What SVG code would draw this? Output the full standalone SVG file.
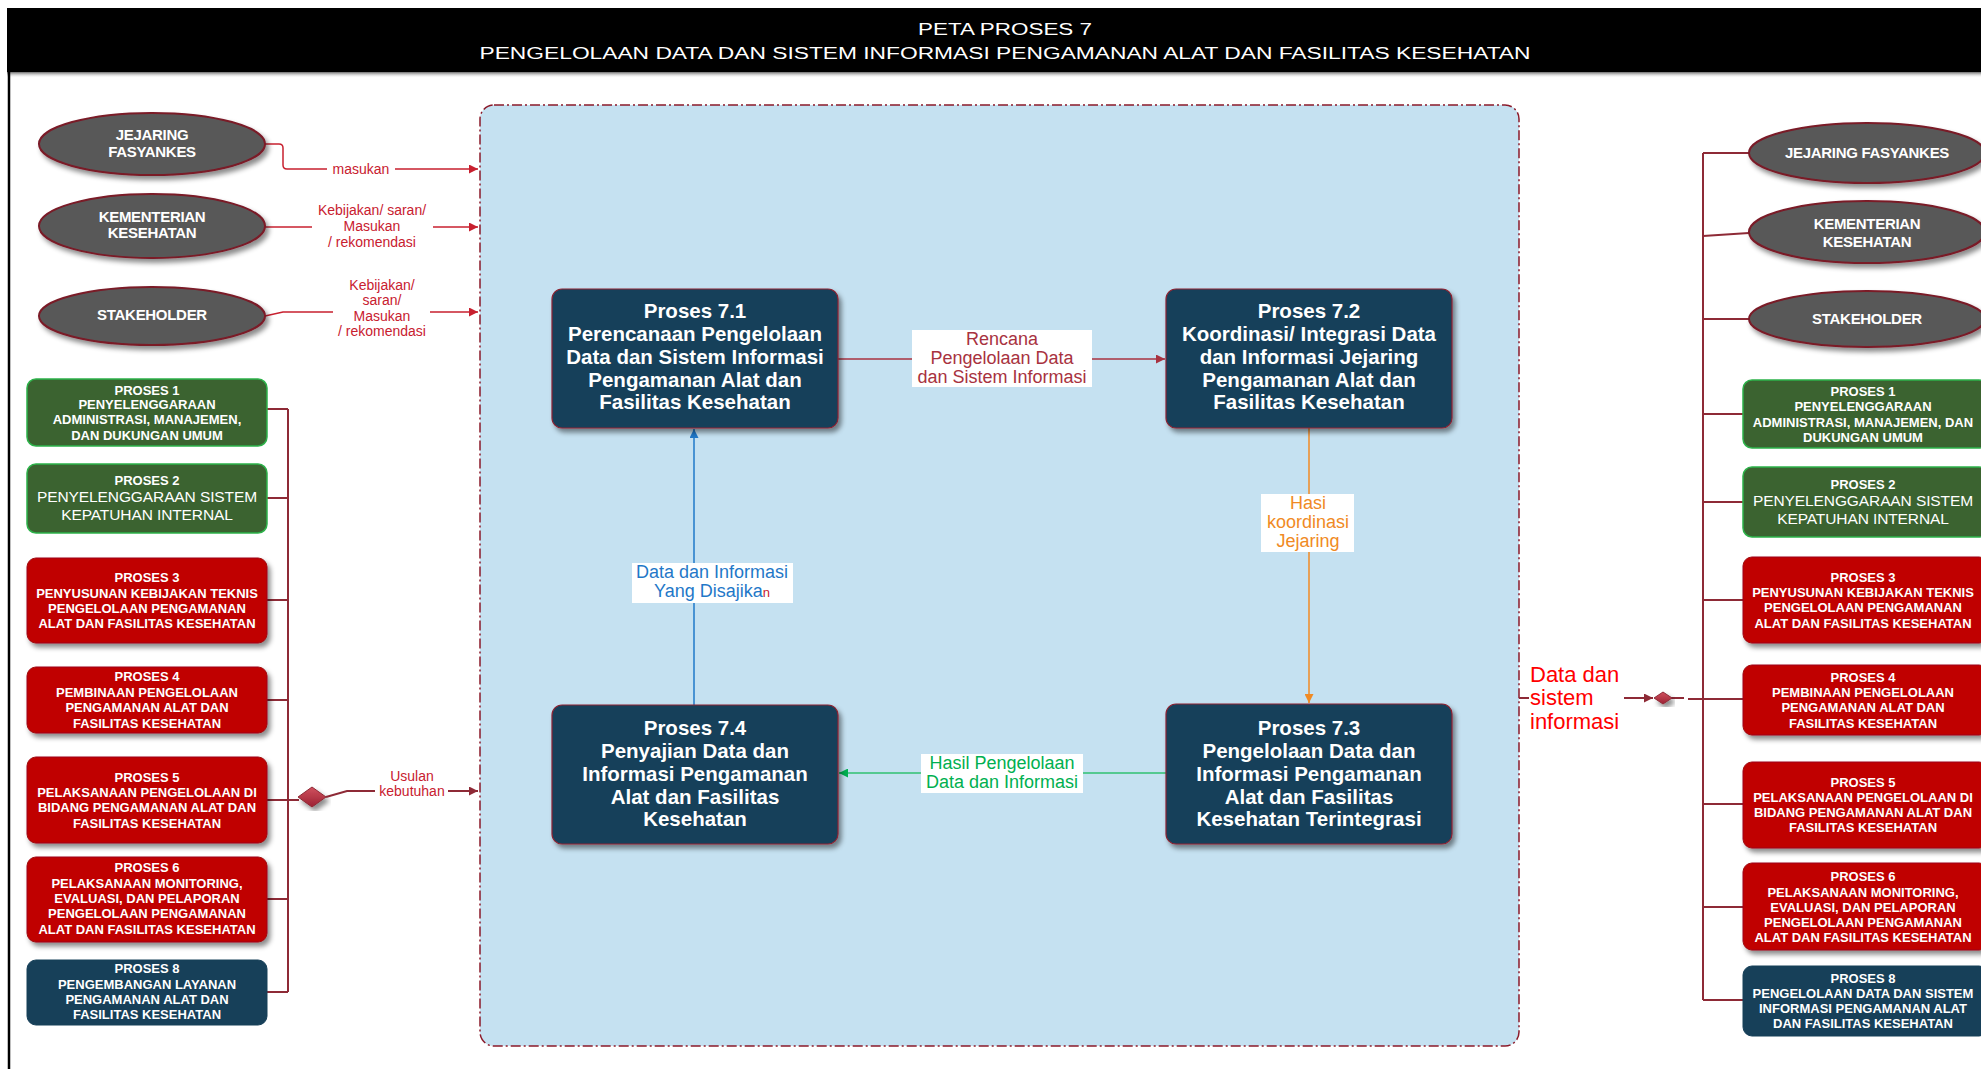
<svg xmlns="http://www.w3.org/2000/svg" width="1981" height="1069" viewBox="0 0 1981 1069">
  <style>
    text { font-family: "Liberation Sans", Arial, sans-serif; }
    .title { fill: #ffffff; font-size: 16px; text-anchor: middle; }
    .ell { fill: #595959; stroke: #7a1a28; stroke-width: 2; filter: url(#shadow); }
    .ellText { fill: #ffffff; font-size: 15px; font-weight: bold; text-anchor: middle; letter-spacing: -0.3px; }
    .green { fill: #3b6330; stroke: #2db24a; stroke-width: 1.5; }
    .red { fill: #c00000; stroke: #9e0b0f; stroke-width: 1; filter: url(#shadow); }
    .navy { fill: #174059; stroke: #174059; stroke-width: 1; }
    .boxText { fill: #ffffff; font-size: 13px; font-weight: bold; text-anchor: middle; letter-spacing: 0px; }
    .boxTextReg { fill: #ffffff; font-size: 15.5px; text-anchor: middle; letter-spacing: -0.1px; }
    .proc { fill: #163f5a; stroke: #8b2232; stroke-width: 1.2; filter: url(#shadow); }
    .procText { fill: #ffffff; font-size: 20.5px; font-weight: bold; text-anchor: middle; }
    .bus { fill: none; stroke: #8e2a36; stroke-width: 2; }
    .inLine { fill: none; stroke: #c8202f; stroke-width: 1.5; }
    .inLabel { fill: #c8202f; font-size: 14px; text-anchor: middle; }
    .lblBg { fill: #ffffff; }
    .midLabel { font-size: 18px; text-anchor: middle; }
  </style>
  <defs>
    <filter id="shadow" x="-10%" y="-10%" width="125%" height="130%">
      <feDropShadow dx="3" dy="4" stdDeviation="2.5" flood-color="#000000" flood-opacity="0.45"/>
    </filter>
    <linearGradient id="barShade" x1="0" y1="0" x2="0" y2="1">
      <stop offset="0" stop-color="#6b6b6b"/>
      <stop offset="1" stop-color="#ffffff" stop-opacity="0"/>
    </linearGradient>
    <linearGradient id="diamondFill" x1="0" y1="0" x2="0" y2="1">
      <stop offset="0" stop-color="#d0505e"/>
      <stop offset="1" stop-color="#9c2233"/>
    </linearGradient>
    <marker id="arRed" viewBox="0 0 10 10" refX="10" refY="5" markerWidth="9" markerHeight="9" markerUnits="userSpaceOnUse" orient="auto">
      <path d="M0,0 L10,5 L0,10 z" fill="#c8202f"/>
    </marker>
    <marker id="arDark" viewBox="0 0 10 10" refX="10" refY="5" markerWidth="9" markerHeight="9" markerUnits="userSpaceOnUse" orient="auto">
      <path d="M0,0 L10,5 L0,10 z" fill="#8e2a36"/>
    </marker>
    <marker id="arCrimson" viewBox="0 0 10 10" refX="10" refY="5" markerWidth="9" markerHeight="9" markerUnits="userSpaceOnUse" orient="auto">
      <path d="M0,0 L10,5 L0,10 z" fill="#a83240"/>
    </marker>
    <marker id="arOrange" viewBox="0 0 10 10" refX="10" refY="5" markerWidth="9" markerHeight="9" markerUnits="userSpaceOnUse" orient="auto">
      <path d="M0,0 L10,5 L0,10 z" fill="#f08a24"/>
    </marker>
    <marker id="arGreen" viewBox="0 0 10 10" refX="10" refY="5" markerWidth="9" markerHeight="9" markerUnits="userSpaceOnUse" orient="auto">
      <path d="M0,0 L10,5 L0,10 z" fill="#00b050"/>
    </marker>
    <marker id="arBlue" viewBox="0 0 10 10" refX="10" refY="5" markerWidth="9" markerHeight="9" markerUnits="userSpaceOnUse" orient="auto">
      <path d="M0,0 L10,5 L0,10 z" fill="#1f78c8"/>
    </marker>
  </defs>

  <rect x="0" y="0" width="1981" height="1069" fill="#ffffff"/>

  <!-- header bar -->
  <g id="header">
    <rect x="7" y="72" width="1974" height="6" fill="url(#barShade)"/>
    <rect x="7" y="8" width="1974" height="64" fill="#000000"/>
    <line x1="9" y1="72" x2="9" y2="1069" stroke="#000000" stroke-width="2.5"/>
    <text class="title" x="1005" y="35" textLength="174" lengthAdjust="spacingAndGlyphs">PETA PROSES 7</text>
    <text class="title" x="1005" y="59" textLength="1051" lengthAdjust="spacingAndGlyphs">PENGELOLAAN DATA DAN SISTEM INFORMASI PENGAMANAN ALAT DAN FASILITAS KESEHATAN</text>
  </g>

  <!-- process 7 container -->
  <g id="container">
    <rect x="480" y="105" width="1039" height="941" rx="14" fill="#c5e1f1" stroke="#8b1a2a" stroke-width="1.5" stroke-dasharray="10 3 2 3"/>
  </g>

  <!-- connectors -->
  <g id="connectors">
    <!-- inputs on the left -->
    <path class="inLine" d="M265,144 H279 Q283,144 283,148 V165 Q283,169 287,169 H478" marker-end="url(#arRed)"/>
    <path class="inLine" d="M265,227 H478" marker-end="url(#arRed)"/>
    <path class="inLine" d="M265,316 L283,312 H478" marker-end="url(#arRed)"/>
    <rect class="lblBg" x="327" y="160" width="68" height="18"/>
    <rect class="lblBg" x="312" y="200" width="121" height="52"/>
    <rect class="lblBg" x="333" y="276" width="97" height="64"/>

    <!-- left bus -->
    <path class="bus" d="M288,409 V992"/>
    <path class="bus" d="M267,409 H288 M267,498 H288 M267,600 H288 M267,700 H288 M267,899 H288 M267,992 H288"/>
    <path class="bus" d="M267,800 H299"/>
    <polygon points="298,797 312,787 326,797 312,807" fill="url(#diamondFill)" stroke="#8e2a36" stroke-width="1" filter="url(#shadow)"/>
    <path class="bus" d="M326,797 L347,791 H478" stroke-width="1.5" marker-end="url(#arDark)"/>
    <rect class="lblBg" x="375" y="782" width="73" height="16"/>

    <!-- right bus -->
    <path class="bus" d="M1703,153 V1000"/>
    <path class="bus" d="M1703,153 H1749 M1703,236 L1749,233 M1703,319 H1749 M1703,414 H1743 M1703,502 H1743 M1703,600 H1743 M1703,804 H1743 M1703,907 H1743 M1703,1000 H1743"/>
    <path class="bus" d="M1688,699 H1743"/>
    <path class="bus" d="M1671,698 H1684" stroke-width="1.5"/>
    <path class="bus" d="M1519,698 H1529" stroke-width="1.2"/>
    <path class="bus" d="M1624,698 H1653" stroke-width="1.5" marker-end="url(#arDark)"/>
    <polygon points="1654,698 1663,692 1672,698 1663,704" fill="url(#diamondFill)" stroke="#8e2a36" stroke-width="1" filter="url(#shadow)"/>

    <!-- flows between sub-processes -->
    <path d="M838,359 H1165" stroke="#a83240" stroke-width="1.5" fill="none" marker-end="url(#arCrimson)"/>
    <path d="M1309,428 V703" stroke="#f08a24" stroke-width="1.5" fill="none" marker-end="url(#arOrange)"/>
    <path d="M1166,773 H839" stroke="#2fc070" stroke-width="1.5" fill="none" marker-end="url(#arGreen)"/>
    <path d="M694,705 V429" stroke="#1f78c8" stroke-width="1.5" fill="none" marker-end="url(#arBlue)"/>

    <rect class="lblBg" x="912" y="330" width="180" height="57"/>
    <rect class="lblBg" x="1261" y="494" width="93" height="58"/>
    <rect class="lblBg" x="921" y="754" width="162" height="39"/>
    <rect class="lblBg" x="632" y="563" width="161" height="40"/>

    <!-- labels -->
    <text class="inLabel" x="361" y="174">masukan</text>
    <text class="inLabel" x="372" y="215">Kebijakan/ saran/</text>
    <text class="inLabel" x="372" y="231">Masukan</text>
    <text class="inLabel" x="372" y="247">/ rekomendasi</text>
    <text class="inLabel" x="382" y="290">Kebijakan/</text>
    <text class="inLabel" x="382" y="305">saran/</text>
    <text class="inLabel" x="382" y="321">Masukan</text>
    <text class="inLabel" x="382" y="336">/ rekomendasi</text>
    <text class="inLabel" x="412" y="781" font-size="14.5">Usulan</text>
    <text class="inLabel" x="412" y="796" font-size="14.5">kebutuhan</text>

    <text x="1530" y="682" fill="#ff0000" font-size="22px">Data dan</text>
    <text x="1530" y="705" fill="#ff0000" font-size="22px">sistem</text>
    <text x="1530" y="729" fill="#ff0000" font-size="22px">informasi</text>

    <text class="midLabel" fill="#a83240" x="1002" y="345">Rencana</text>
    <text class="midLabel" fill="#a83240" x="1002" y="364">Pengelolaan Data</text>
    <text class="midLabel" fill="#a83240" x="1002" y="383">dan Sistem Informasi</text>
    <text class="midLabel" fill="#f08a24" x="1308" y="509">Hasi</text>
    <text class="midLabel" fill="#f08a24" x="1308" y="528">koordinasi</text>
    <text class="midLabel" fill="#f08a24" x="1308" y="547">Jejaring</text>
    <text class="midLabel" fill="#00b050" x="1002" y="769">Hasil Pengelolaan</text>
    <text class="midLabel" fill="#00b050" x="1002" y="788">Data dan Informasi</text>
    <text class="midLabel" fill="#1f78c8" x="712" y="578">Data dan Informasi</text>
    <text class="midLabel" fill="#1f78c8" x="712" y="597">Yang Disajika<tspan fill="#c8202f" font-size="13px">n</tspan></text>
  </g>

  <!-- left external parties -->
  <g id="left-jejaring">
    <ellipse class="ell" cx="152" cy="144" rx="113" ry="31"/>
    <text class="ellText" x="152" y="140">JEJARING</text>
    <text class="ellText" x="152" y="157">FASYANKES</text>
  </g>
  <g id="left-kemenkes">
    <ellipse class="ell" cx="152" cy="226" rx="113" ry="32"/>
    <text class="ellText" x="152" y="222">KEMENTERIAN</text>
    <text class="ellText" x="152" y="238">KESEHATAN</text>
  </g>
  <g id="left-stakeholder">
    <ellipse class="ell" cx="152" cy="316" rx="113" ry="29"/>
    <text class="ellText" x="152" y="320">STAKEHOLDER</text>
  </g>

  <!-- left related processes -->
  <g id="left-p1">
    <rect class="green" x="27" y="379" width="240" height="67" rx="9"/>
    <text class="boxText" x="147" y="395">PROSES 1</text>
    <text class="boxText" x="147" y="409">PENYELENGGARAAN</text>
    <text class="boxText" x="147" y="424">ADMINISTRASI, MANAJEMEN,</text>
    <text class="boxText" x="147" y="440">DAN DUKUNGAN UMUM</text>
  </g>
  <g id="left-p2">
    <rect class="green" x="27" y="464" width="240" height="69" rx="9"/>
    <text class="boxText" x="147" y="485">PROSES 2</text>
    <text class="boxTextReg" x="147" y="502">PENYELENGGARAAN SISTEM</text>
    <text class="boxTextReg" x="147" y="520">KEPATUHAN INTERNAL</text>
  </g>
  <g id="left-p3">
    <rect class="red" x="27" y="558" width="240" height="85" rx="9"/>
    <text class="boxText" x="147" y="582">PROSES 3</text>
    <text class="boxText" x="147" y="598">PENYUSUNAN KEBIJAKAN TEKNIS</text>
    <text class="boxText" x="147" y="613">PENGELOLAAN PENGAMANAN</text>
    <text class="boxText" x="147" y="628">ALAT DAN  FASILITAS KESEHATAN</text>
  </g>
  <g id="left-p4">
    <rect class="red" x="27" y="667" width="240" height="66" rx="9"/>
    <text class="boxText" x="147" y="681">PROSES 4</text>
    <text class="boxText" x="147" y="697">PEMBINAAN PENGELOLAAN</text>
    <text class="boxText" x="147" y="712">PENGAMANAN ALAT DAN</text>
    <text class="boxText" x="147" y="728">FASILITAS KESEHATAN</text>
  </g>
  <g id="left-p5">
    <rect class="red" x="27" y="757" width="240" height="86" rx="9"/>
    <text class="boxText" x="147" y="782">PROSES 5</text>
    <text class="boxText" x="147" y="797">PELAKSANAAN PENGELOLAAN DI</text>
    <text class="boxText" x="147" y="812">BIDANG PENGAMANAN ALAT DAN</text>
    <text class="boxText" x="147" y="828">FASILITAS KESEHATAN</text>
  </g>
  <g id="left-p6">
    <rect class="red" x="27" y="857" width="240" height="85" rx="9"/>
    <text class="boxText" x="147" y="872">PROSES 6</text>
    <text class="boxText" x="147" y="888">PELAKSANAAN MONITORING,</text>
    <text class="boxText" x="147" y="903">EVALUASI, DAN PELAPORAN</text>
    <text class="boxText" x="147" y="918">PENGELOLAAN PENGAMANAN</text>
    <text class="boxText" x="147" y="934">ALAT DAN  FASILITAS KESEHATAN</text>
  </g>
  <g id="left-p8">
    <rect class="navy" x="27" y="960" width="240" height="65" rx="9"/>
    <text class="boxText" x="147" y="973">PROSES 8</text>
    <text class="boxText" x="147" y="989">PENGEMBANGAN LAYANAN</text>
    <text class="boxText" x="147" y="1004">PENGAMANAN ALAT DAN</text>
    <text class="boxText" x="147" y="1019">FASILITAS KESEHATAN</text>
  </g>

  <!-- sub-processes of process 7 -->
  <g id="p7-1">
    <rect class="proc" x="552" y="289" width="286" height="139" rx="10"/>
    <text class="procText" x="695" y="318">Proses 7.1</text>
    <text class="procText" x="695" y="341">Perencanaan Pengelolaan</text>
    <text class="procText" x="695" y="364">Data dan Sistem Informasi</text>
    <text class="procText" x="695" y="387">Pengamanan Alat dan</text>
    <text class="procText" x="695" y="409">Fasilitas Kesehatan</text>
  </g>
  <g id="p7-2">
    <rect class="proc" x="1166" y="289" width="286" height="139" rx="10"/>
    <text class="procText" x="1309" y="318">Proses 7.2</text>
    <text class="procText" x="1309" y="341">Koordinasi/ Integrasi Data</text>
    <text class="procText" x="1309" y="364">dan Informasi Jejaring</text>
    <text class="procText" x="1309" y="387">Pengamanan Alat dan</text>
    <text class="procText" x="1309" y="409">Fasilitas Kesehatan</text>
  </g>
  <g id="p7-3">
    <rect class="proc" x="1166" y="704" width="286" height="140" rx="10"/>
    <text class="procText" x="1309" y="735">Proses 7.3</text>
    <text class="procText" x="1309" y="758">Pengelolaan Data dan</text>
    <text class="procText" x="1309" y="781">Informasi Pengamanan</text>
    <text class="procText" x="1309" y="804">Alat dan Fasilitas</text>
    <text class="procText" x="1309" y="826">Kesehatan  Terintegrasi</text>
  </g>
  <g id="p7-4">
    <rect class="proc" x="552" y="705" width="286" height="139" rx="10"/>
    <text class="procText" x="695" y="735">Proses 7.4</text>
    <text class="procText" x="695" y="758">Penyajian Data dan</text>
    <text class="procText" x="695" y="781">Informasi Pengamanan</text>
    <text class="procText" x="695" y="804">Alat dan Fasilitas</text>
    <text class="procText" x="695" y="826">Kesehatan</text>
  </g>

  <!-- right external parties -->
  <g id="right-jejaring">
    <ellipse class="ell" cx="1867" cy="153" rx="118" ry="30"/>
    <text class="ellText" x="1867" y="158">JEJARING FASYANKES</text>
  </g>
  <g id="right-kemenkes">
    <ellipse class="ell" cx="1867" cy="232" rx="118" ry="31"/>
    <text class="ellText" x="1867" y="229">KEMENTERIAN</text>
    <text class="ellText" x="1867" y="247">KESEHATAN</text>
  </g>
  <g id="right-stakeholder">
    <ellipse class="ell" cx="1867" cy="319" rx="118" ry="28"/>
    <text class="ellText" x="1867" y="324">STAKEHOLDER</text>
  </g>

  <!-- right related processes -->
  <g id="right-p1">
    <rect class="green" x="1743" y="380" width="245" height="68" rx="9"/>
    <text class="boxText" x="1863" y="396">PROSES 1</text>
    <text class="boxText" x="1863" y="411">PENYELENGGARAAN</text>
    <text class="boxText" x="1863" y="427">ADMINISTRASI, MANAJEMEN, DAN</text>
    <text class="boxText" x="1863" y="442">DUKUNGAN UMUM</text>
  </g>
  <g id="right-p2">
    <rect class="green" x="1743" y="467" width="245" height="70" rx="9"/>
    <text class="boxText" x="1863" y="489">PROSES 2</text>
    <text class="boxTextReg" x="1863" y="506">PENYELENGGARAAN SISTEM</text>
    <text class="boxTextReg" x="1863" y="524">KEPATUHAN INTERNAL</text>
  </g>
  <g id="right-p3">
    <rect class="red" x="1743" y="557" width="245" height="86" rx="9"/>
    <text class="boxText" x="1863" y="582">PROSES 3</text>
    <text class="boxText" x="1863" y="597">PENYUSUNAN KEBIJAKAN TEKNIS</text>
    <text class="boxText" x="1863" y="612">PENGELOLAAN PENGAMANAN</text>
    <text class="boxText" x="1863" y="628">ALAT DAN  FASILITAS KESEHATAN</text>
  </g>
  <g id="right-p4">
    <rect class="red" x="1743" y="665" width="245" height="70" rx="9"/>
    <text class="boxText" x="1863" y="682">PROSES 4</text>
    <text class="boxText" x="1863" y="697">PEMBINAAN PENGELOLAAN</text>
    <text class="boxText" x="1863" y="712">PENGAMANAN ALAT DAN</text>
    <text class="boxText" x="1863" y="728">FASILITAS KESEHATAN</text>
  </g>
  <g id="right-p5">
    <rect class="red" x="1743" y="762" width="245" height="86" rx="9"/>
    <text class="boxText" x="1863" y="787">PROSES 5</text>
    <text class="boxText" x="1863" y="802">PELAKSANAAN PENGELOLAAN DI</text>
    <text class="boxText" x="1863" y="817">BIDANG PENGAMANAN ALAT DAN</text>
    <text class="boxText" x="1863" y="832">FASILITAS KESEHATAN</text>
  </g>
  <g id="right-p6">
    <rect class="red" x="1743" y="863" width="245" height="87" rx="9"/>
    <text class="boxText" x="1863" y="881">PROSES 6</text>
    <text class="boxText" x="1863" y="897">PELAKSANAAN MONITORING,</text>
    <text class="boxText" x="1863" y="912">EVALUASI, DAN PELAPORAN</text>
    <text class="boxText" x="1863" y="927">PENGELOLAAN PENGAMANAN</text>
    <text class="boxText" x="1863" y="942">ALAT DAN  FASILITAS KESEHATAN</text>
  </g>
  <g id="right-p8">
    <rect class="navy" x="1743" y="966" width="245" height="70" rx="9"/>
    <text class="boxText" x="1863" y="983">PROSES 8</text>
    <text class="boxText" x="1863" y="998">PENGELOLAAN DATA DAN SISTEM</text>
    <text class="boxText" x="1863" y="1013">INFORMASI PENGAMANAN ALAT</text>
    <text class="boxText" x="1863" y="1028">DAN FASILITAS KESEHATAN</text>
  </g>
</svg>
